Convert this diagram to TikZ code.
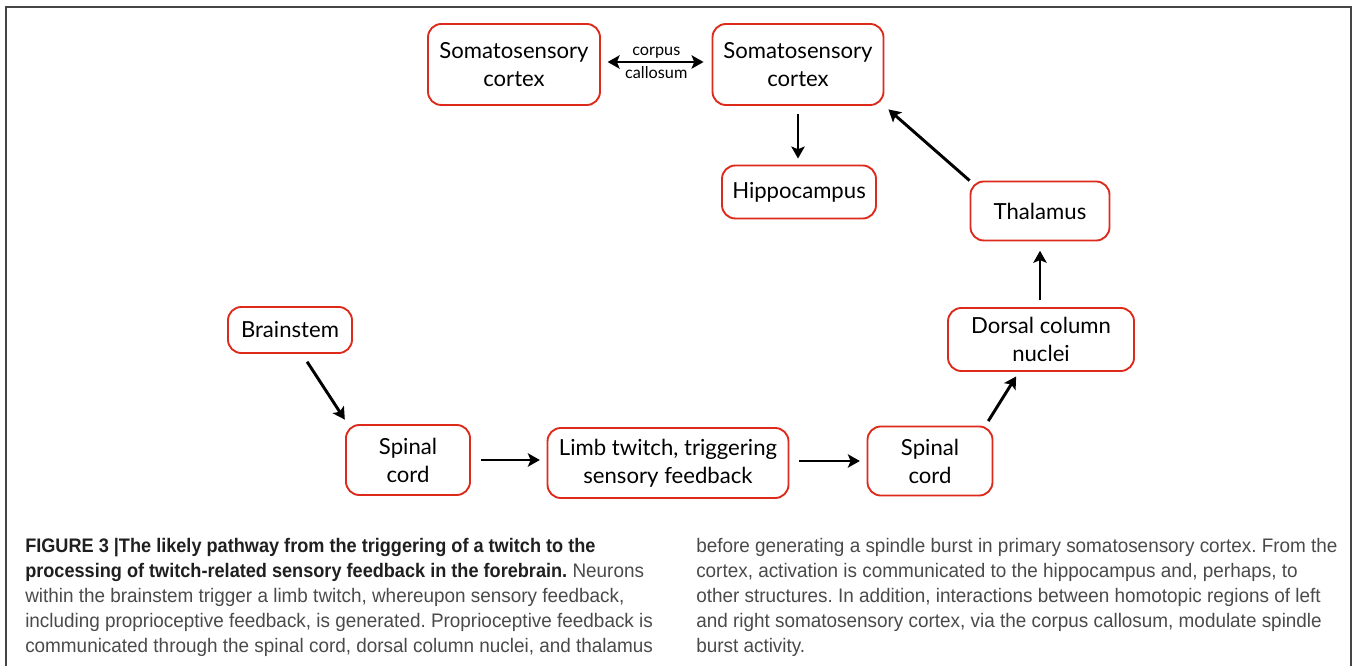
\documentclass[tikz,border=0pt]{standalone}
\usepackage{fontspec}
\setmainfont{Liberation Sans}[FakeStretch=0.965,BoldFeatures={FakeStretch=0.925}]
\newfontfamily\boxfont{Lato}
\usetikzlibrary{arrows.meta}
\definecolor{boxred}{HTML}{DD2A1B}
\definecolor{captiongray}{HTML}{4A4A4A}
\definecolor{framegray}{HTML}{454545}
\frenchspacing

\begin{document}
\begin{tikzpicture}[x=0.75pt,y=-0.75pt,
    region/.style={draw=boxred,line width=1.4pt,rounded corners=10pt,align=center,
      inner sep=0pt,font=\boxfont\fontsize{16.6}{21}\selectfont},
    tip/.tip={Stealth[length=9pt,width=10pt,inset=2pt]},
    link/.style={line width=2.2pt,-tip},
    caption/.style={anchor=north west,inner sep=0pt,align=left,
      font=\fontsize{14.7}{18.75}\selectfont,text=captiongray}]
    \useasboundingbox (0,0) rectangle (1354,666);
    \draw[framegray,line width=1.5pt] (6,666) -- (6,7) -- (1351,7) -- (1351,666);

    % forebrain
    \node[region,minimum width=129pt,minimum height=60.75pt] (ssL) at (514,64.5) {Somatosensory\\cortex};
    \node[region,minimum width=128.25pt,minimum height=60.75pt] (ssR) at (798,64.5) {Somatosensory\\cortex};
    \node[region,minimum width=115.5pt,minimum height=39.75pt] (hippo) at (799,192) {Hippocampus};
    \node[region,minimum width=104.25pt,minimum height=44.25pt] (thal) at (1040,211) {Thalamus};
    \node[region,minimum width=139.5pt,minimum height=47.25pt] (dcn) at (1041,339.5) {Dorsal column\\nuclei};

    % brainstem and periphery
    \node[region,minimum width=93pt,minimum height=34.5pt] (brain) at (290,330) {Brainstem};
    \node[region,minimum width=93pt,minimum height=52.5pt] (spL) at (408,460) {Spinal\\cord};
    \node[region,minimum width=180.75pt,minimum height=52.5pt] (limb) at (668,463) {Limb twitch, triggering\\sensory feedback};
    \node[region,minimum width=93.75pt,minimum height=51.75pt] (spR) at (930,461) {Spinal\\cord};

    \draw[line width=2.2pt,tip-tip,shorten <=5pt,shorten >=6pt] (ssL.east |- 0,62) -- (ssR.west |- 0,62)
      node[midway,above=-2pt,font=\boxfont\fontsize{12.2}{13}\selectfont] (cc1) {corpus}
      node[midway,below=-1pt,font=\boxfont\fontsize{12.2}{13}\selectfont] (cc2) {callosum};
    \draw[link,shorten <=6pt,shorten >=4.5pt] (ssR.south) -- (ssR.south |- hippo.north);
    \draw[link,shorten >=4pt] (thal.north west) -- (ssR.south east);
    \draw[link,shorten <=5pt,shorten >=7pt] (dcn.north -| thal.south) -- (thal.south);
    \draw[link,shorten <=7pt,shorten >=4pt] ([xshift=9pt]brain.south) -- ([xshift=2pt]spL.north west);
    \draw[link,shorten <=7.5pt,shorten >=5pt] (spL.east) -- (spL.east -| limb.west);
    \draw[link,shorten <=7.5pt,shorten >=5pt] (limb.east |- spR.west) -- (spR.west);
    \draw[link,shorten <=4pt,shorten >=4pt] ([xshift=-6pt]spR.north east) -- ([xshift=-16.5pt]dcn.south);

    % caption
    \node[caption] (capL) at (25,538) {{\bfseries\color{black!88}FIGURE 3 |The likely pathway from the triggering of a twitch to the}\\
      {\bfseries\color{black!88}processing of twitch-related sensory feedback in the forebrain.} Neurons\\
      within the brainstem trigger a limb twitch, whereupon sensory feedback,\\
      including proprioceptive feedback, is generated. Proprioceptive feedback is\\
      communicated through the spinal cord, dorsal column nuclei, and thalamus};
    \node[caption] (capR) at (696,538) {before generating a spindle burst in primary somatosensory cortex. From the\\
      cortex, activation is communicated to the hippocampus and, perhaps, to\\
      other structures. In addition, interactions between homotopic regions of left\\
      and right somatosensory cortex, via the corpus callosum, modulate spindle\\
      burst activity.};
\end{tikzpicture}
\end{document}
